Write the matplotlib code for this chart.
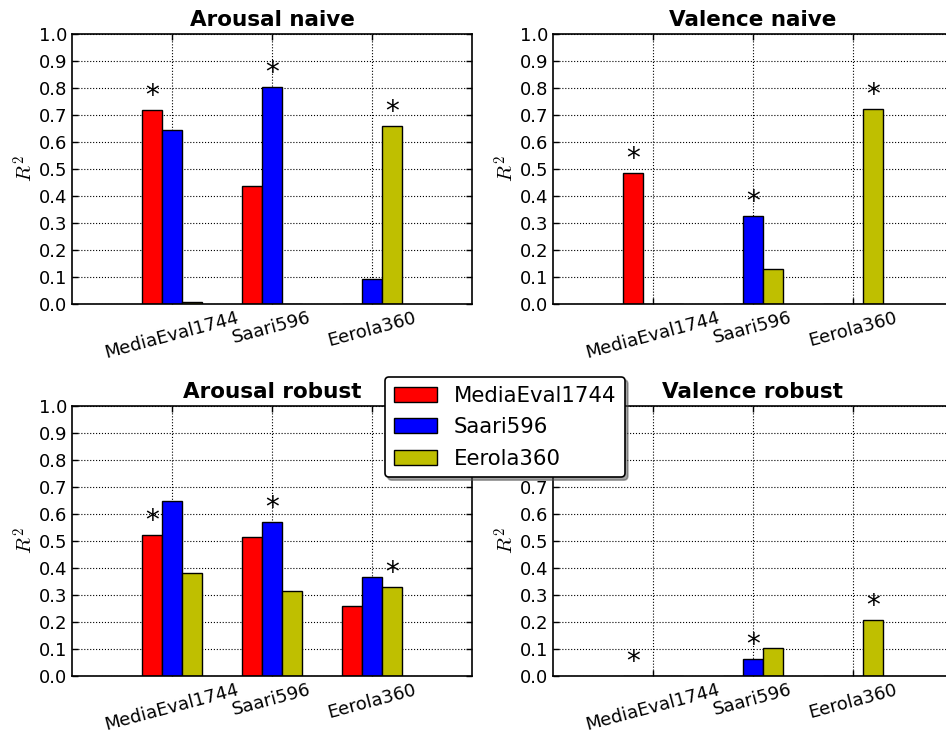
import numpy as np
import matplotlib
matplotlib.use("Agg")
import matplotlib.pyplot as plt

plt.rcParams['mathtext.fontset'] = 'cm'
plt.rcParams['font.family'] = ['DejaVu Sans']

datasets = ["MediaEval1744", "Saari596", "Eerola360"]
series_names = ["MediaEval1744", "Saari596", "Eerola360"]
colors = ["#ff0000", "#0000ff", "#bfbf00"]

titles = ["Arousal naive", "Valence naive", "Arousal robust", "Valence robust"]

# values[series][dataset]
arousal_naive = [[0.717, 0.438, 0.001],
                 [0.646, 0.804, 0.091],
                 [0.007, 0.001, 0.660]]
valence_naive = [[0.484, 0.000, 0.000],
                 [0.001, 0.325, 0.000],
                 [0.000, 0.128, 0.721]]
arousal_robust = [[0.521, 0.514, 0.258],
                  [0.649, 0.572, 0.365],
                  [0.381, 0.314, 0.330]]
valence_robust = [[0.000, 0.000, 0.000],
                  [0.000, 0.064, 0.000],
                  [0.000, 0.105, 0.209]]
all_values = [arousal_naive, valence_naive, arousal_robust, valence_robust]

W, H = 946, 734
fig = plt.figure(figsize=(W / 100, H / 100), dpi=100, facecolor='white')

positions = [(72, 34), (553, 34), (72, 406), (553, 406)]
aw, ah = 400, 270

bar_w = 0.2
x = np.arange(len(datasets))
handles = []
for idx, (title, vals, (px, py)) in enumerate(zip(titles, all_values, positions)):
    ax = fig.add_axes([px / W, 1 - (py + ah) / H, aw / W, ah / H])
    for k, (series, col) in enumerate(zip(vals, colors)):
        b = ax.bar(x - 0.3 + k * bar_w, series, bar_w, align='edge', color=col,
                   edgecolor='black', linewidth=1.0, label=series_names[k], zorder=2)
        if idx == 0:
            handles.append(b)
    # significance stars on diagonal (model trained on same dataset)
    for i in range(len(datasets)):
        xc = i - 0.3 + i * bar_w + bar_w / 2
        ax.text(xc, vals[i][i] + 0.0, "*", ha='center', va='bottom', fontsize=20, zorder=3)
    ax.set_xlim(-1, 3)
    ax.set_ylim(0, 1.0)
    ax.set_xticks(x)
    ax.set_xticklabels(datasets, rotation=15, ha='center', fontsize=13)
    ax.set_yticks(np.arange(0, 1.01, 0.1))
    ax.set_yticklabels(["%.1f" % v for v in np.arange(0, 1.01, 0.1)], fontsize=13)
    ax.set_ylabel("$R^2$", fontsize=15, labelpad=1)
    ax.set_title(title, fontsize=15.5, fontweight='bold')
    ax.grid(True, linestyle=':', color='black', linewidth=0.8, zorder=1)
    ax.set_axisbelow(True)
    ax.tick_params(direction='in', top=True, right=True, length=4, width=1)
    for s in ax.spines.values():
        s.set_linewidth(1.2)

leg = fig.legend(handles, series_names, loc='upper left',
                 bbox_to_anchor=(385 / W, 1 - 377 / H), fontsize=15.3,
                 shadow=True, fancybox=True, framealpha=1, edgecolor='black',
                 handlelength=2.05, handleheight=0.7, handletextpad=0.8,
                 borderpad=0.4, labelspacing=0.55, borderaxespad=0)
leg.get_frame().set_linewidth(1.2)

fig.savefig("out.png", dpi=100, facecolor='white')
